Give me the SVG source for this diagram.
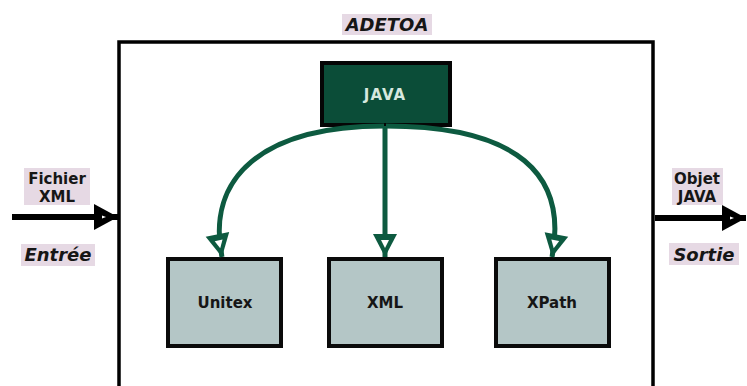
<svg xmlns="http://www.w3.org/2000/svg" width="747" height="386" viewBox="0 0 747 386">
<defs>
<style>
.lbl{font-family:"DejaVu Sans",Verdana,sans-serif;font-weight:bold;fill:#161616;text-anchor:middle}
.it{font-style:italic}
.bg{fill:#e6d9e4}
.box{fill:#b4c6c6;stroke:#0a0a0a;stroke-width:4}
.gline{fill:none;stroke:#0d5a40;stroke-width:5}
.bline{fill:none;stroke:#000;stroke-width:6}
</style>
<marker id="ag" markerUnits="userSpaceOnUse" markerWidth="32" markerHeight="32" viewBox="0 0 32 32" refX="27" refY="16" orient="auto">
<path d="M4,4 L27,16 L4,28 Z" fill="#0d5a40"/>
<path d="M10,12 L18,16 L10,20 Z" fill="#fff"/>
</marker>
<marker id="ab" markerUnits="userSpaceOnUse" markerWidth="32" markerHeight="32" viewBox="0 0 32 32" refX="27" refY="16" orient="auto">
<path d="M3,3 L27,16 L3,29 Z" fill="#000"/>
<path d="M11,14.5 L15,16 L11,17.5 Z" fill="#fff"/>
</marker>
</defs>
<rect width="747" height="386" fill="#fff"/>
<g id="adetoa">
<rect x="119" y="42" width="534" height="370" fill="#fff" stroke="#000" stroke-width="3.5"/>
<rect class="bg" x="342" y="14" width="90" height="21"/>
<text class="lbl it" x="387" y="31" font-size="18">ADETOA</text>
</g>
<g id="java">
<rect x="322" y="63" width="128" height="62" fill="#0b4d38" stroke="#050505" stroke-width="4"/>
<text class="lbl" x="385" y="100" font-size="15" letter-spacing="1" style="fill:#d6e8df">JAVA</text>
</g>
<g id="unitex">
<rect class="box" x="168" y="259" width="113" height="87"/>
<text class="lbl" x="225" y="308" font-size="15">Unitex</text>
</g>
<g id="xml">
<rect class="box" x="329" y="259" width="113" height="87"/>
<text class="lbl" x="385" y="308" font-size="15">XML</text>
</g>
<g id="xpath">
<rect class="box" x="496" y="259" width="113" height="87"/>
<text class="lbl" x="552" y="308" font-size="15">XPath</text>
</g>
<g id="entree">
<rect class="bg" x="24" y="168" width="66" height="37"/>
<text class="lbl" x="57" y="184" font-size="15">Fichier</text>
<text class="lbl" x="57" y="202" font-size="15">XML</text>
<rect class="bg" x="21" y="244" width="74" height="22"/>
<text class="lbl it" x="58" y="261" font-size="18">Entrée</text>
</g>
<g id="sortie">
<rect class="bg" x="672" y="168" width="51" height="37"/>
<text class="lbl" x="697" y="184" font-size="15">Objet</text>
<text class="lbl" x="697" y="202" font-size="15">JAVA</text>
<rect class="bg" x="669" y="243" width="70" height="22"/>
<text class="lbl it" x="704" y="261" font-size="18">Sortie</text>
</g>
<g id="connectors">
<path class="gline" d="M384,126 C262,126 206,178 222,257" marker-end="url(#ag)"/>
<path class="gline" d="M385,126 L385,257" marker-end="url(#ag)"/>
<path class="gline" d="M386,126 C518,126 568,175 552,257" marker-end="url(#ag)"/>
<path class="bline" d="M12,217 L118,217" marker-end="url(#ab)"/>
<path class="bline" d="M655,218 L746,218" marker-end="url(#ab)"/>
</g>
</svg>
